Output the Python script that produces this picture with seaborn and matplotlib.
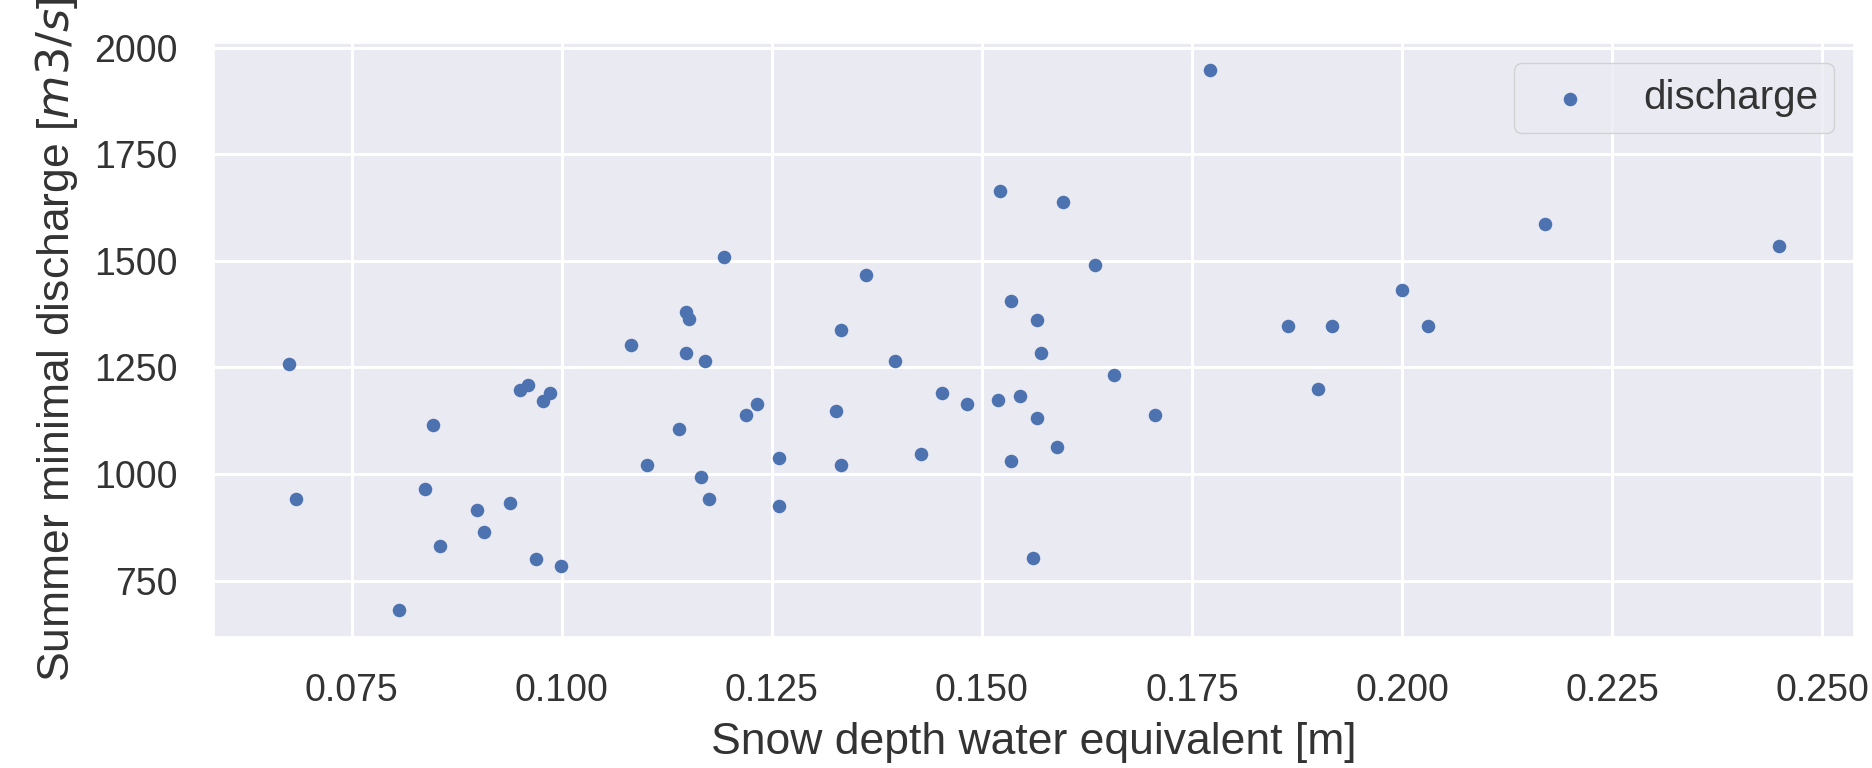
import matplotlib
matplotlib.use("Agg")
import matplotlib.pyplot as plt
import seaborn as sns
import pandas as pd

# Snow depth water equivalent [m]
swe = [0.0675, 0.0684, 0.0807, 0.0837, 0.0847, 0.0855, 0.0899, 0.0908, 0.0939, 0.0951,
       0.0960, 0.0969, 0.0978, 0.0986, 0.0999, 0.1083, 0.1101, 0.1140, 0.1148, 0.1151,
       0.1148, 0.1166, 0.1171, 0.1175, 0.1193, 0.1219, 0.1232, 0.1258, 0.1258, 0.1327,
       0.1332, 0.1332, 0.1362, 0.1397, 0.1428, 0.1453, 0.1482, 0.1519, 0.1522, 0.1535,
       0.1535, 0.1545, 0.1561, 0.1565, 0.1566, 0.1570, 0.1589, 0.1596, 0.1635, 0.1657,
       0.1706, 0.1772, 0.1864, 0.1900, 0.1917, 0.2000, 0.2031, 0.2170, 0.2449]
# Summer minimal discharge [m3/s]
discharge = [1258, 941, 681, 966, 1114, 830, 915, 865, 933, 1197,
             1208, 801, 1172, 1191, 785, 1302, 1021, 1106, 1380, 1363,
             1283, 992, 1266, 941, 1509, 1139, 1164, 1038, 925, 1148,
             1337, 1021, 1466, 1266, 1047, 1191, 1165, 1174, 1664, 1405,
             1030, 1182, 802, 1362, 1131, 1283, 1064, 1638, 1491, 1232,
             1139, 1948, 1347, 1199, 1347, 1431, 1347, 1587, 1534]

series_label = "discharge"
x_label = "Snow depth water equivalent [m]"
y_label = "Summer minimal discharge [$m3/s$]"
y_ticks = [750, 1000, 1250, 1500, 1750, 2000]

df = pd.DataFrame({"swe": swe, "discharge": discharge})

sns.set_theme(style="darkgrid")
plt.rcParams["font.family"] = ["Liberation Sans", "DejaVu Sans"]
plt.rcParams["grid.linewidth"] = 2.2
plt.rcParams["xtick.major.pad"] = 20
plt.rcParams["ytick.major.pad"] = 20
plt.rcParams["text.color"] = "#333333"
plt.rcParams["axes.labelcolor"] = "#333333"
plt.rcParams["xtick.color"] = "#333333"
plt.rcParams["ytick.color"] = "#333333"

fig, ax = plt.subplots(figsize=(18.72, 7.68), dpi=100)
fig.subplots_adjust(left=0.1143, right=0.9904, top=0.944, bottom=0.1706)

sns.scatterplot(data=df, x="swe", y="discharge", ax=ax, color="#4C72B0",
                s=95, linewidth=0, label=series_label)

ax.set_xlabel(x_label, fontsize=32, labelpad=9)
ax.set_ylabel(y_label, fontsize=32, labelpad=10)
ax.tick_params(axis="both", labelsize=27)
ax.set_yticks(y_ticks)
ax.legend(loc="upper right", fontsize=29, borderaxespad=0.5)

fig.savefig("out.png", dpi=100)
